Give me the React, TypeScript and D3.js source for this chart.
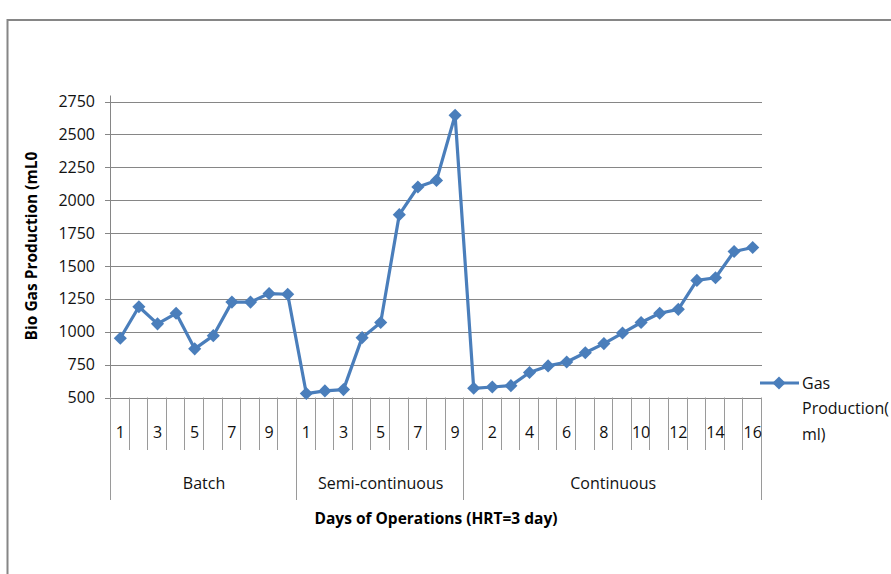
import React, { useRef, useEffect } from 'react';
import * as d3 from 'd3';

// --- chart data ---
const groups = ['Batch', 'Semi-continuous', 'Continuous'];
const batchValues = [950, 1190, 1060, 1140, 870, 970, 1225, 1225, 1290, 1285];
const semiValues = [530, 550, 560, 955, 1070, 1890, 2100, 2150, 2645];
const continuousValues = [570, 580, 590, 690, 740, 770, 840, 910, 990, 1070, 1140, 1170, 1390, 1410, 1610, 1640];
const yTicks = [500, 750, 1000, 1250, 1500, 1750, 2000, 2250, 2500, 2750];
const seriesName = ['Gas', 'Production(', 'ml)'];

const FONT = '"Open Sans", "Noto Sans", sans-serif';
const BLUE = '#4a7ebb';

const App = () => {
    const ref = useRef<SVGSVGElement>(null);

    useEffect(() => {
        const svg = d3.select(ref.current);
        svg.selectAll('*').remove();

        // flatten into one category list, keeping the group and day number
        const groupValues = [batchValues, semiValues, continuousValues];
        const points = groupValues.flatMap((vals, g) =>
            vals.map((v, i) => ({ key: `${g}-${i + 1}`, group: g, day: i + 1, value: v }))
        );

        const left = 111, right = 762, top = 101.5, bottom = 397.5;

        const x = d3.scaleBand().domain(points.map(d => d.key)).range([left, right]).padding(0);
        const y = d3.scaleLinear().domain([500, 2750]).range([bottom, top]);

        // outer chart border (cut off at right and bottom, like the picture)
        svg.append('rect')
            .attr('x', 7.5).attr('y', 20)
            .attr('width', 1000).attr('height', 700)
            .attr('fill', 'none').attr('stroke', '#868686').attr('stroke-width', 2);

        // horizontal gridlines + y tick marks
        svg.append('g')
            .selectAll('line')
            .data(yTicks)
            .join('line')
            .attr('x1', left - 6).attr('x2', right)
            .attr('y1', d => Math.round(y(d)) + 0.5).attr('y2', d => Math.round(y(d)) + 0.5)
            .attr('stroke', '#868686').attr('stroke-width', 1);

        // y axis line
        svg.append('line')
            .attr('x1', left - 0.5).attr('x2', left - 0.5)
            .attr('y1', top - 6).attr('y2', bottom)
            .attr('stroke', '#868686');

        // y tick labels
        svg.append('g')
            .selectAll('text')
            .data(yTicks)
            .join('text')
            .attr('x', left - 16).attr('y', d => y(d))
            .attr('dy', '0.35em')
            .attr('text-anchor', 'end')
            .style('font-family', FONT).style('font-size', '16px').attr('fill', '#111')
            .text(d => d);

        // category divider lines under the axis
        const bw = x.bandwidth();
        const boundaries = d3.range(points.length + 1);
        const groupStarts = [0, batchValues.length, batchValues.length + semiValues.length, points.length];
        svg.append('g')
            .selectAll('line')
            .data(boundaries)
            .join('line')
            .attr('x1', i => Math.round(left + i * bw) - 0.5)
            .attr('x2', i => Math.round(left + i * bw) - 0.5)
            .attr('y1', bottom)
            .attr('y2', i => (groupStarts.includes(i) ? 500 : 450))
            .attr('stroke', '#9a9a9a');

        // category labels, every other one
        svg.append('g')
            .selectAll('text')
            .data(points.filter((d, i) => i % 2 === 0))
            .join('text')
            .attr('x', d => (x(d.key) as number) + bw / 2)
            .attr('y', 432)
            .attr('dy', '0.35em')
            .attr('text-anchor', 'middle')
            .style('font-family', FONT).style('font-size', '16px').attr('fill', '#111')
            .text(d => d.day);

        // group labels
        svg.append('g')
            .selectAll('text')
            .data(groups)
            .join('text')
            .attr('x', (d, g) => left + ((groupStarts[g] + groupStarts[g + 1]) / 2) * bw)
            .attr('y', 483)
            .attr('dy', '0.35em')
            .attr('text-anchor', 'middle')
            .style('font-family', FONT).style('font-size', '16px').attr('fill', '#111')
            .text(d => d);

        // axis titles
        svg.append('text')
            .attr('x', 436).attr('y', 519)
            .attr('dy', '0.35em')
            .attr('text-anchor', 'middle')
            .style('font-family', FONT).style('font-size', '15.5px').style('font-weight', 'bold')
            .text('Days of Operations (HRT=3 day)');

        svg.append('text')
            .attr('transform', 'translate(32,246) rotate(-90)')
            .attr('dy', '0.35em')
            .attr('text-anchor', 'middle')
            .style('font-family', FONT).style('font-size', '15.5px').style('font-weight', 'bold')
            .text('Bio Gas Production (mL0');

        // the series line
        const line = d3.line<typeof points[number]>()
            .x(d => (x(d.key) as number) + bw / 2)
            .y(d => y(d.value));

        svg.append('path')
            .datum(points)
            .attr('fill', 'none')
            .attr('stroke', BLUE)
            .attr('stroke-width', 3.2)
            .attr('stroke-linejoin', 'round')
            .attr('d', line);

        const diamond = d3.symbol().type(d3.symbolDiamond2).size(110);
        svg.append('g')
            .selectAll('path')
            .data(points)
            .join('path')
            .attr('transform', d => `translate(${(x(d.key) as number) + bw / 2},${y(d.value)})`)
            .attr('d', diamond)
            .attr('fill', BLUE);

        // legend
        const lg = svg.append('g');
        lg.append('line')
            .attr('x1', 760).attr('x2', 799).attr('y1', 383).attr('y2', 383)
            .attr('stroke', BLUE).attr('stroke-width', 3.2);
        lg.append('path')
            .attr('transform', 'translate(779,383)')
            .attr('d', diamond)
            .attr('fill', BLUE);
        lg.selectAll('text')
            .data(seriesName)
            .join('text')
            .attr('x', 802)
            .attr('y', (d, i) => 383 + i * 25.5)
            .attr('dy', '0.35em')
            .style('font-family', FONT).style('font-size', '16px').attr('fill', '#111')
            .text(d => d);
    }, []);

    return (
        <svg
            ref={ref}
            width={891}
            height={574}
            style={{ position: 'absolute', left: 0, top: 0, background: '#fff', display: 'block' }}
        />
    );
};

export default App;
